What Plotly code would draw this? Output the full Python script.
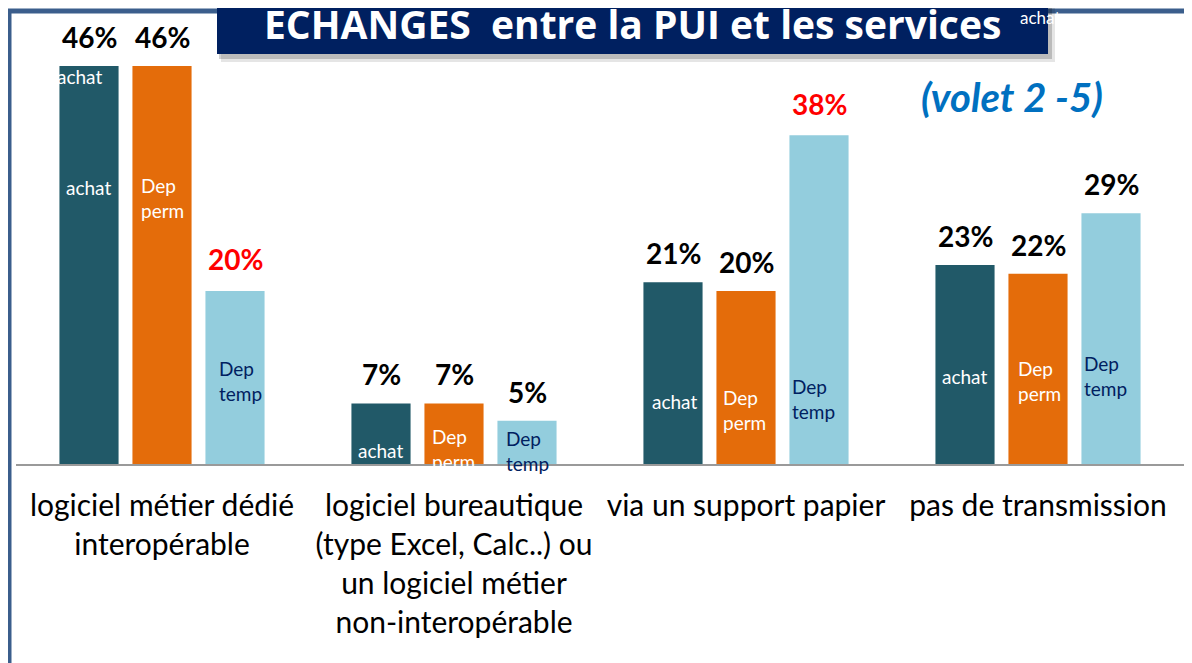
import plotly.graph_objects as go

# ---------------- data ----------------
categories = [
    "logiciel métier dédié<br>interopérable",
    "logiciel bureautique<br>(type Excel, Calc..) ou<br>un logiciel métier<br>non-interopérable",
    "via un support papier",
    "pas de transmission",
]
series_names = ["achat", "Dep perm", "Dep temp"]
achat = [46, 7, 21, 23]
dep_perm = [46, 7, 20, 22]
dep_temp = [20, 5, 38, 29]
pct_labels_achat = ["46%", "7%", "21%", "23%"]
pct_labels_perm = ["46%", "7%", "20%", "22%"]
pct_labels_temp = ["20%", "5%", "38%", "29%"]
title_text = "ECHANGES  entre la PUI et les services"
subtitle_text = "(volet 2 -5)"

# ---------------- style / layout ----------------
OFF = 8                      # page body margin
W, H = 1192 - OFF, 663 - OFF
ML, MR, MT, MB = 8, 8, 24, 199
PW, PH = W - ML - MR, H - MT - MB
PX_PER_UNIT = 8.65
YMAX = PH / PX_PER_UNIT

C_ACHAT = "#215968"
C_PERM = "#E46C0A"
C_TEMP = "#93CDDD"
C_NAVY = "#002060"
C_BORDER = "#3B5E8C"
FONT = "Lato"

series_vals = [achat, dep_perm, dep_temp]
series_colors = [C_ACHAT, C_PERM, C_TEMP]
series_pct = [pct_labels_achat, pct_labels_perm, pct_labels_temp]
pct_colors = [
    ["black"] * 4,
    ["black"] * 4,
    ["#FF0000", "black", "#FF0000", "black"],
]
pct_yshift = [
    [29, 29, 29, 29],
    [29, 29, 29, 29],
    [32, 29, 31, 29],
]
offsets = [-0.25, 0.0, 0.25]

# inner-label layout (y in data units, x shift in px)
inner_text = ["achat", "Dep<br>perm", "Dep<br>temp"]
inner_color = ["white", "white", C_NAVY]
inner_y = [
    [32.0, 1.6, 7.2, 10.1],
    [30.8, 1.7, 6.2, 9.65],
    [9.65, 1.5, 7.5, 10.2],
]
inner_xshift = [
    [-1, -1, 1, -1],
    [0, -1, -2, 1],
    [5, 0, -6, -6],
]


# screen-pixel -> paper helpers
def px_x(sx):
    return (sx - OFF - ML) / PW


def px_y(sy):
    return (H - MB - (sy - OFF)) / PH


fig = go.Figure()
for name, vals, col in zip(series_names, series_vals, series_colors):
    fig.add_trace(go.Bar(
        x=list(range(len(categories))), y=vals, name=name,
        marker=dict(color=col, line=dict(width=0)),
        hoverinfo="skip",
    ))

annotations = []
for s in range(3):
    for i in range(len(categories)):
        annotations.append(dict(
            x=i + offsets[s], y=series_vals[s][i], xref="x", yref="y",
            text="<b>%s</b>" % series_pct[s][i], showarrow=False,
            yanchor="middle", yshift=pct_yshift[s][i],
            font=dict(family=FONT, size=28, color=pct_colors[s][i]),
        ))
        annotations.append(dict(
            x=i + offsets[s], y=inner_y[s][i], xref="x", yref="y",
            text=inner_text[s], showarrow=False, align="left",
            xshift=inner_xshift[s][i], yanchor="middle",
            font=dict(family=FONT, size=19, color=inner_color[s]),
        ))

# stray label at top of first bar
annotations.append(dict(
    x=offsets[0], y=(464 - 76) / PX_PER_UNIT, xref="x", yref="y",
    text="achat", showarrow=False, xshift=-10, yanchor="middle",
    font=dict(family=FONT, size=19, color="white"),
))

shapes = [
    # slide border
    dict(type="rect", xref="paper", yref="paper", x0=px_x(8), x1=px_x(11.5),
         y0=px_y(H + OFF + 5), y1=px_y(9), fillcolor=C_BORDER, line=dict(width=0), layer="above"),
    dict(type="rect", xref="paper", yref="paper", x0=px_x(8), x1=px_x(W + OFF + 5),
         y0=px_y(13.5), y1=px_y(8.5), fillcolor=C_BORDER, line=dict(width=0), layer="above"),
    # shadow
    dict(type="rect", xref="paper", yref="paper", x0=px_x(221), x1=px_x(1055),
         y0=px_y(62), y1=px_y(-5), fillcolor="rgba(0,0,0,0.10)", line=dict(width=0), layer="above"),
    dict(type="rect", xref="paper", yref="paper", x0=px_x(219), x1=px_x(1052),
         y0=px_y(59), y1=px_y(-5), fillcolor="rgba(0,0,0,0.18)", line=dict(width=0), layer="above"),
    # title box
    dict(type="rect", xref="paper", yref="paper", x0=px_x(217), x1=px_x(1048),
         y0=px_y(54), y1=px_y(-5), fillcolor=C_NAVY, line=dict(width=0), layer="above"),
]

annotations += [
    dict(x=px_x(632), y=px_y(24), xref="paper", yref="paper", showarrow=False,
         text="<b>%s</b>" % title_text, xanchor="center", yanchor="middle",
         font=dict(family="Open Sans", size=39, color="white")),
    dict(x=px_x(1018), y=px_y(18), xref="paper", yref="paper", showarrow=False,
         text="achat", xanchor="left", yanchor="middle",
         font=dict(family=FONT, size=17, color="white")),
    dict(x=px_x(1012), y=px_y(97), xref="paper", yref="paper", showarrow=False,
         text="<b><i>%s</i></b>" % subtitle_text, xanchor="center", yanchor="middle",
         font=dict(family=FONT, size=40, color="#0070C0")),
]

fig.update_layout(
    width=W, height=H,
    margin=dict(l=ML, r=MR, t=MT, b=MB, pad=0),
    paper_bgcolor="white", plot_bgcolor="white",
    barmode="group", bargap=0.25, bargroupgap=0.19,
    showlegend=False,
    shapes=shapes, annotations=annotations,
    xaxis=dict(
        tickmode="array", tickvals=list(range(len(categories))), ticktext=categories,
        range=[-0.5, len(categories) - 0.5],
        showline=True, linecolor="#9A9A9A", linewidth=2,
        showgrid=False, zeroline=False, ticks="", tickangle=0,
        ticklabelstandoff=14,
        tickfont=dict(family=FONT, size=30, color="black"),
    ),
    yaxis=dict(range=[0, YMAX], visible=False, showgrid=False, zeroline=False),
)

fig.write_html("out.html")
